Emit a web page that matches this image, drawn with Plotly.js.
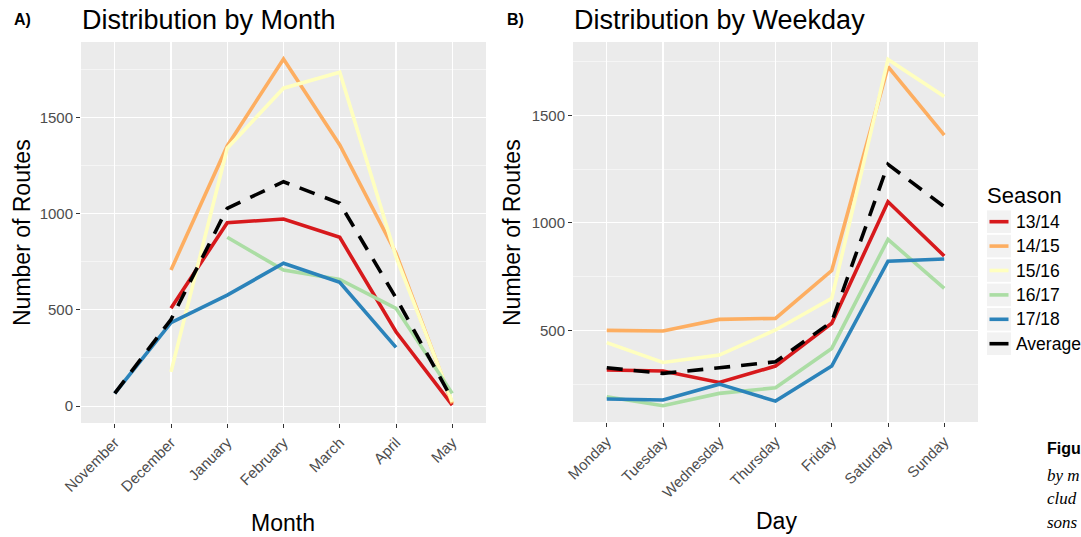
<!DOCTYPE html>
<html>
<head>
<meta charset="utf-8">
<script src="https://cdn.plot.ly/plotly-3.0.1.min.js"></script>
<style>html,body{margin:0;padding:0;background:#fff;}#chart{width:1081px;height:537px;}</style>
</head>
<body>
<div id="chart"></div>
<script>
// ---- data ----
const seasons = ['13/14', '14/15', '15/16', '16/17', '17/18', 'Average'];
const months = ['November', 'December', 'January', 'February', 'March', 'April', 'May'];
const month13_14 = [null, 508, 953, 972, 877, 386, 5];
const month14_15 = [null, 707, 1352, 1804, 1357, 794, 14];
const month15_16 = [null, 178, 1340, 1652, 1735, 776, 22];
const month16_17 = [null, null, 877, 707, 658, 508, 66];
const month17_18 = [66, 433, 577, 742, 643, 305, null];
const monthAvg = [66, 450, 1028, 1166, 1054, 562, 35];

const days = ['Monday', 'Tuesday', 'Wednesday', 'Thursday', 'Friday', 'Saturday', 'Sunday'];
const day13_14 = [316, 311, 258, 334, 533, 1098, 846];
const day14_15 = [500, 497, 551, 556, 778, 1726, 1408];
const day15_16 = [443, 351, 385, 502, 649, 1760, 1587];
const day16_17 = [191, 150, 207, 233, 416, 923, 695];
const day17_18 = [181, 176, 250, 171, 334, 822, 832];
const dayAvg = [326, 300, 326, 354, 540, 1272, 1075];

const yTicks = [0, 500, 1000, 1500];

// ---- styling ----
const colors = ['#d7191c', '#fdae61', '#ffffbf', '#abdda4', '#2b83ba', '#000000'];
const FONT = 'Liberation Sans, Arial, Helvetica, sans-serif';
const SERIF = 'Liberation Serif, DejaVu Serif, serif';
const W = 1081, H = 537;
const px = v => v / W, py = v => 1 - v / H;

const monthSeries = [month13_14, month14_15, month15_16, month16_17, month17_18, monthAvg];
const daySeries = [day13_14, day14_15, day15_16, day16_17, day17_18, dayAvg];

const traces = [];
seasons.forEach((s, i) => {
  const line = {color: colors[i], width: 3.6};
  if (s === 'Average') line.dash = '16px,11px';
  traces.push({x: months, y: monthSeries[i], type: 'scatter', mode: 'lines', name: s,
    showlegend: false, line: line, xaxis: 'x', yaxis: 'y', hoverinfo: 'skip'});
});
seasons.forEach((s, i) => {
  const line = {color: colors[i], width: 3.6};
  if (s === 'Average') line.dash = '16px,11px';
  traces.push({x: days, y: daySeries[i], type: 'scatter', mode: 'lines', name: s,
    showlegend: false, line: line, xaxis: 'x2', yaxis: 'y2', hoverinfo: 'skip'});
});

const xBase = {
  type: 'category', range: [-0.6, 6.6], showgrid: true, gridcolor: '#ffffff', gridwidth: 1.1,
  zeroline: false, showline: false, ticks: 'outside', ticklen: 4, tickcolor: '#333333',
  tickangle: -45, tickfont: {family: FONT, size: 15, color: '#4d4d4d'}, fixedrange: true
};
const yBase = {
  showgrid: true, gridcolor: '#ffffff', gridwidth: 1.1, zeroline: false, showline: false,
  ticks: 'outside', ticklen: 4, tickcolor: '#333333', tickvals: yTicks,
  tickfont: {family: FONT, size: 15, color: '#4d4d4d'},
  minor: {showgrid: true, gridcolor: '#ffffff', gridwidth: 0.5, tick0: 250, dtick: 500, ticks: ''},
  fixedrange: true
};

// ---- legend (ggplot-style keys drawn as paper shapes) ----
const shapes = [];
const legendAnn = [];
const keyX0 = 987, keyX1 = 1011, firstCenter = 221.7, step = 24.4;
seasons.forEach((s, i) => {
  const c = firstCenter + step * i;
  shapes.push({type: 'rect', xref: 'paper', yref: 'paper', x0: px(keyX0), x1: px(keyX1),
    y0: py(c + 11.3), y1: py(c - 11.3), fillcolor: '#f2f2f2', line: {width: 0}, layer: 'below'});
  shapes.push({type: 'line', xref: 'paper', yref: 'paper', x0: px(989.5), x1: px(1008.5),
    y0: py(c), y1: py(c), line: {color: colors[i], width: 3.6}});
  legendAnn.push({text: s, x: px(1014), y: py(c), xref: 'paper', yref: 'paper',
    xanchor: 'left', yanchor: 'middle', showarrow: false,
    font: {family: FONT, size: 17.5, color: '#000'}});
});
legendAnn.push({text: 'Season', x: px(985), y: py(195), xref: 'paper', yref: 'paper',
  xanchor: 'left', yanchor: 'middle', showarrow: false, font: {family: FONT, size: 22, color: '#000'}});

const layout = {
  width: W, height: H,
  margin: {l: 0, r: 0, t: 0, b: 0},
  paper_bgcolor: '#ffffff', plot_bgcolor: '#ebebeb',
  font: {family: FONT, color: '#000000'},
  showlegend: false,
  xaxis: Object.assign({}, xBase, {domain: [px(81), px(486)], anchor: 'y'}),
  yaxis: Object.assign({}, yBase, {domain: [py(423), py(42)], range: [-88, 1892], anchor: 'x'}),
  xaxis2: Object.assign({}, xBase, {domain: [px(573), px(978)], anchor: 'y2'}),
  yaxis2: Object.assign({}, yBase, {domain: [py(422), py(42)], range: [74, 1841], anchor: 'x2'}),
  shapes: shapes,
  annotations: [
    {text: '<b>A)</b>', x: px(12), y: py(19), xref: 'paper', yref: 'paper', xanchor: 'left', yanchor: 'middle', showarrow: false, font: {family: FONT, size: 16, color: '#000'}},
    {text: '<b>B)</b>', x: px(505), y: py(19), xref: 'paper', yref: 'paper', xanchor: 'left', yanchor: 'middle', showarrow: false, font: {family: FONT, size: 16, color: '#000'}},
    {text: 'Distribution by Month', x: px(80), y: py(20), xref: 'paper', yref: 'paper', xanchor: 'left', yanchor: 'middle', showarrow: false, font: {family: FONT, size: 27, color: '#000'}},
    {text: 'Distribution by Weekday', x: px(572), y: py(20), xref: 'paper', yref: 'paper', xanchor: 'left', yanchor: 'middle', showarrow: false, font: {family: FONT, size: 27, color: '#000'}},
    {text: 'Number of Routes', x: px(22), y: py(233), xref: 'paper', yref: 'paper', xanchor: 'center', yanchor: 'middle', textangle: -90, showarrow: false, font: {family: FONT, size: 23, color: '#000'}},
    {text: 'Number of Routes', x: px(512), y: py(233), xref: 'paper', yref: 'paper', xanchor: 'center', yanchor: 'middle', textangle: -90, showarrow: false, font: {family: FONT, size: 23, color: '#000'}},
    {text: 'Month', x: px(283), y: py(523), xref: 'paper', yref: 'paper', xanchor: 'center', yanchor: 'middle', showarrow: false, font: {family: FONT, size: 23, color: '#000'}},
    {text: 'Day', x: px(776), y: py(521), xref: 'paper', yref: 'paper', xanchor: 'center', yanchor: 'middle', showarrow: false, font: {family: FONT, size: 23, color: '#000'}},
    {text: '<b>Figu</b>', x: px(1045), y: py(448), xref: 'paper', yref: 'paper', xanchor: 'left', yanchor: 'middle', showarrow: false, font: {family: FONT, size: 16, color: '#000'}},
    {text: '<i>by m</i>', x: px(1045), y: py(475), xref: 'paper', yref: 'paper', xanchor: 'left', yanchor: 'middle', showarrow: false, font: {family: SERIF, size: 17, color: '#000'}},
    {text: '<i>clud</i>', x: px(1045), y: py(498), xref: 'paper', yref: 'paper', xanchor: 'left', yanchor: 'middle', showarrow: false, font: {family: SERIF, size: 17, color: '#000'}},
    {text: '<i>sons</i>', x: px(1045), y: py(522), xref: 'paper', yref: 'paper', xanchor: 'left', yanchor: 'middle', showarrow: false, font: {family: SERIF, size: 17, color: '#000'}}
  ].concat(legendAnn)
};

Plotly.newPlot('chart', traces, layout, {displayModeBar: false, staticPlot: true});
</script>
</body>
</html>
